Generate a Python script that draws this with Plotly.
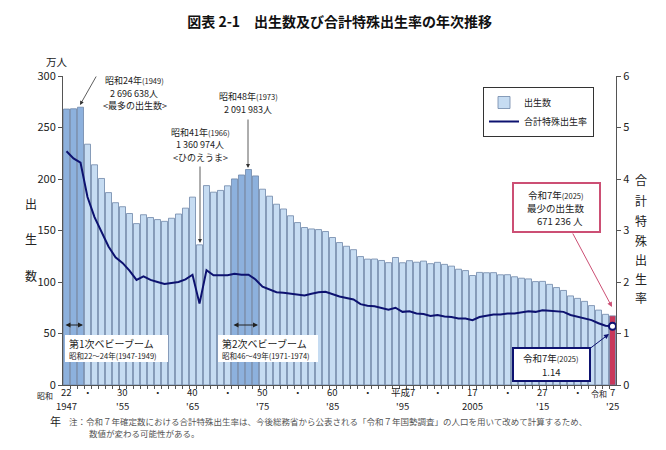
import plotly.graph_objects as go

years = list(range(1947, 2026))
births = [267.9, 268.2, 269.7, 233.8, 213.8, 200.5, 186.8, 177.0, 173.1, 166.5,
          156.7, 165.3, 162.6, 160.6, 158.9, 161.9, 166.0, 171.7, 182.4, 136.1,
          193.6, 187.2, 188.9, 193.4, 200.1, 203.9, 209.2, 203.0, 190.1, 183.3,
          175.5, 170.9, 164.3, 157.7, 152.9, 151.5, 150.9, 149.0, 143.2, 138.3,
          134.7, 131.4, 124.7, 122.2, 122.3, 120.9, 118.8, 123.8, 118.7, 120.7,
          119.2, 120.3, 117.8, 119.1, 117.1, 115.4, 112.4, 111.1, 106.3, 109.3,
          109.0, 109.1, 107.0, 107.1, 105.1, 103.7, 103.0, 100.4, 100.6, 97.7,
          94.6, 91.8, 86.5, 84.1, 81.2, 77.1, 72.7, 68.6, 67.1]
tfr = [4.54, 4.40, 4.32, 3.65, 3.26, 2.98, 2.69, 2.48, 2.37, 2.22,
       2.04, 2.11, 2.04, 2.00, 1.96, 1.98, 2.00, 2.05, 2.14, 1.58,
       2.23, 2.13, 2.13, 2.13, 2.16, 2.14, 2.14, 2.05, 1.91, 1.85,
       1.80, 1.79, 1.77, 1.75, 1.74, 1.77, 1.80, 1.81, 1.76, 1.72,
       1.69, 1.66, 1.57, 1.54, 1.53, 1.50, 1.46, 1.50, 1.42, 1.43,
       1.39, 1.38, 1.34, 1.36, 1.33, 1.32, 1.29, 1.29, 1.26, 1.32,
       1.34, 1.37, 1.37, 1.39, 1.39, 1.41, 1.43, 1.42, 1.45, 1.44,
       1.43, 1.42, 1.36, 1.33, 1.30, 1.26, 1.20, 1.15, 1.14]

tick_years = [1947, 1950, 1955, 1960, 1965, 1970, 1975, 1980, 1985, 1990,
              1995, 2000, 2005, 2010, 2015, 2020, 2025]
tick_era = ["22", "・", "30", "・", "40", "・", "50", "・", "60", "・",
            "平成7", "・", "17", "・", "27", "・", "7"]
tick_west = ["1947", "", "'55", "", "'65", "", "'75", "", "'85", "",
             "'95", "", "2005", "", "'15", "", "'25"]
boom_years = [1947, 1948, 1949, 1971, 1972, 1973, 1974]
last_year = 2025

FONT = "Noto Sans CJK JP"
C_BAR = "#c6dcf2"
C_BOOM = "#8db1dd"
C_LAST = "#c8385a"
C_EDGE = "#6f87a8"
C_LINE = "#0d1270"
C_PINK = "#cc4f74"

bar_colors = [C_LAST if y == last_year else (C_BOOM if y in boom_years else C_BAR) for y in years]

# plot area pixel geometry
L, R, T, B = 63, 616, 76, 385
W, H = 666, 450
def px(x):
    return (x - L) / (R - L)
def py(y):
    return (B - y) / (B - T)

fig = go.Figure()
fig.add_trace(go.Bar(x=years, y=births, marker=dict(color=bar_colors, line=dict(color=C_EDGE, width=0.8)),
                     showlegend=False, hoverinfo="x+y"))
fig.add_trace(go.Bar(x=[None], y=[None], name="出生数",
                     marker=dict(color=C_BAR, line=dict(color=C_EDGE, width=0.8))))
fig.add_trace(go.Scatter(x=years, y=tfr, yaxis="y2", mode="lines", name="合計特殊出生率",
                         line=dict(color=C_LINE, width=2)))
fig.add_trace(go.Scatter(x=[years[-1]], y=[tfr[-1]], yaxis="y2", mode="markers", showlegend=False,
                         marker=dict(color="white", size=7, line=dict(color=C_LINE, width=2))))

ann = []
shapes = []
def text(x, y, t, size=9, xanchor="center", yanchor="middle", color="#222", **kw):
    kw.setdefault("borderpad", 0)
    ann.append(dict(x=px(x), y=py(y), xref="paper", yref="paper", text=t, showarrow=False,
                    xanchor=xanchor, yanchor=yanchor, font=dict(size=size, color=color, family=FONT), **kw))

def arrow(x0, y0, x1, y1, color="#333", width=0.8, head=2, both=False):
    ann.append(dict(x=px(x1), y=py(y1), xref="paper", yref="paper", ax=x0 - x1, ay=y0 - y1,
                    axref="pixel", ayref="pixel", text="", showarrow=True, arrowhead=head,
                    arrowsize=1, arrowwidth=width, arrowcolor=color,
                    arrowside="end+start" if both else "end", startarrowhead=head))

def box(x0, y0, x1, y1, line_color=None, lw=2):
    shapes.append(dict(type="rect", xref="paper", yref="paper", x0=px(x0), x1=px(x1), y0=py(y1), y1=py(y0),
                       fillcolor="white", line=dict(color=line_color or "white", width=lw if line_color else 0),
                       layer="above"))

# x-axis labels (two rows) placed at the data x of each labelled year
for yr, e, w in zip(tick_years, tick_era, tick_west):
    ann.append(dict(x=yr, y=py(392), xref="x", yref="paper", text=e, showarrow=False, borderpad=0,
                    xanchor="center", yanchor="middle", font=dict(size=9.5, color="#222", family=FONT)))
    if w:
        ann.append(dict(x=yr, y=py(405.5), xref="x", yref="paper", text=w, showarrow=False, borderpad=0,
                        xanchor="center", yanchor="middle", font=dict(size=9.5, color="#222", family=FONT)))

text(57, 61, "万人", size=10.5)
for ch, yy in zip("出生数", [203, 238, 275]):
    text(31, yy, ch, size=12)
for ch, yy in zip("合計特殊出生率", [179, 200, 220, 240, 259, 278, 297]):
    text(641, yy, ch, size=12)
text(45, 395, "昭和", size=8)
text(599, 393, "令和", size=8)
text(55, 421, "年", size=11)
text(68, 421, "注：令和７年確定数における合計特殊出生率は、今後総務省から公表される「令和７年国勢調査」の人口を用いて改めて計算するため、",
     size=8.5, xanchor="left", color="#555")
text(88, 433, "数値が変わる可能性がある。", size=8.5, xanchor="left", color="#555")

SM = "<span style='font-size:7.5px'>%s</span>"
# 1949
text(134, 80.5, "昭和24年" + SM % "(1949)", size=9)
text(134, 93, "2 696 638人", size=9)
text(135, 105.5, "&lt;最多の出生数&gt;", size=9)
arrow(97, 75, 80, 105)
# 1966
text(200, 132, "昭和41年" + SM % "(1966)", size=9)
text(200, 144.5, "1 360 974人", size=9)
text(200, 157, "&lt;ひのえうま&gt;", size=9)
arrow(200, 165, 200, 243)
# 1973
text(248, 97, "昭和48年" + SM % "(1973)", size=9)
text(248, 109.5, "2 091 983人", size=9)
arrow(248, 118, 248, 168)

# baby boom markers
arrow(64, 325, 83, 325, color="#222", width=1, head=2, both=True)
arrow(232, 325, 258, 325, color="#222", width=1, head=2, both=True)
box(65, 335, 168, 362)
text(68, 343, "第1次ベビーブーム", size=10, xanchor="left")
text(68, 355.5, "昭和22〜24年(1947-1949)", size=7.5, xanchor="left")
box(218, 335, 318, 362)
text(221, 343, "第2次ベビーブーム", size=10, xanchor="left")
text(221, 355.5, "昭和46〜49年(1971-1974)", size=7.5, xanchor="left")

# 2025 boxes
box(513, 183, 600, 232, line_color=C_PINK)
text(556, 195, "令和7年" + SM % "(2025)", size=9.5)
text(556, 208, "最少の出生数", size=9.5)
text(560, 221, "671 236 人", size=9.5)
arrow(572, 232, 612, 307, color=C_PINK, width=1)
box(513, 348, 590, 381, line_color=C_LINE)
text(551, 358, "令和7年" + SM % "(2025)", size=9.5)
text(551, 371.5, "1.14", size=9.5)
arrow(588, 350, 609, 334, color=C_LINE, width=1)

fig.update_layout(
    width=W, height=H,
    margin=dict(l=L, r=W - R, t=T, b=H - B),
    paper_bgcolor="white", plot_bgcolor="white",
    font=dict(family=FONT, color="#222"),
    title=dict(text="<b>図表 2-1　出生数及び合計特殊出生率の年次推移</b>", x=0.51, xanchor="center",
               y=1 - 22 / H, yanchor="middle", font=dict(size=14, color="#111", family=FONT)),
    bargap=0.14,
    showlegend=True,
    legend=dict(x=px(483), y=py(87), xanchor="left", yanchor="top", bordercolor="#333", borderwidth=1,
                bgcolor="white", font=dict(size=9, family=FONT), tracegroupgap=0, itemwidth=30),
    annotations=ann,
    shapes=shapes,
    xaxis=dict(range=[1946.5, 2025.5], tickmode="array", tickvals=tick_years, showticklabels=False,
               ticks="", showline=True, linecolor="#555", linewidth=1,
               showgrid=False, zeroline=False,
               minor=dict(tickmode="array", tickvals=[y + 0.5 for y in years[:-1]], ticks="outside",
                          ticklen=3, tickcolor="#555")),
    yaxis=dict(range=[0, 300], dtick=50, ticks="outside", ticklen=4, tickcolor="#555", showline=True,
               linecolor="#555", linewidth=1, showgrid=False, zeroline=False,
               tickfont=dict(size=11, color="#222")),
    yaxis2=dict(range=[0, 6], dtick=1, overlaying="y", side="right", ticks="outside", ticklen=4,
                tickcolor="#555", showline=True, linecolor="#555", linewidth=1, showgrid=False,
                zeroline=False, tickfont=dict(size=11, color="#222")),
)

fig.write_html("out.html")
